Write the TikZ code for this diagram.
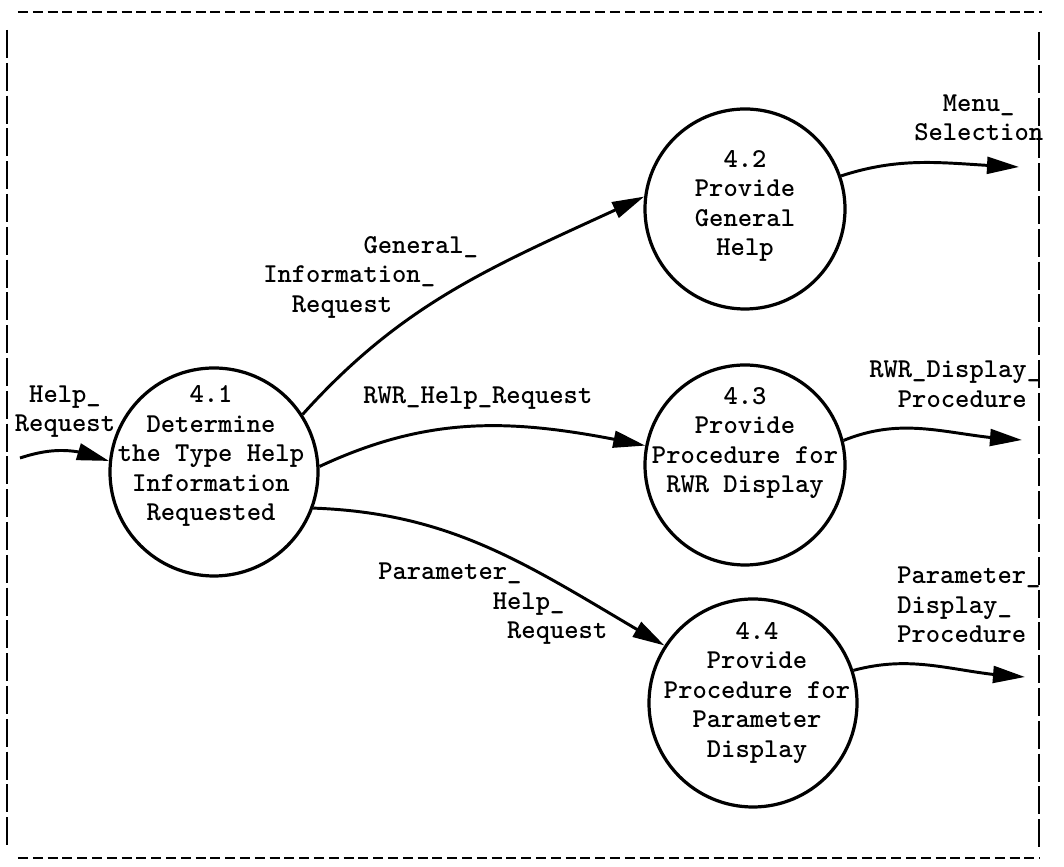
\documentclass[tikz,border=0pt]{standalone}
\usepackage{tikz}
\usetikzlibrary{arrows.meta,bending,shapes,positioning}
\begin{document}
\begin{tikzpicture}[proc/.style={draw,circle,line width=2.3pt,minimum size=5.2cm,inner sep=0pt},
                    txt/.style={font=\ttfamily\bfseries\fontsize{19.4}{21}\selectfont,inner sep=0pt},
                    flow/.style={-{Triangle[length=0.8cm,width=0.42cm]},line width=2.1pt},
                    hdash/.style={line width=1.8pt,dash pattern=on 0.25cm off 0.12cm},
                    vdash/.style={line width=1.8pt,dash pattern=on 0.7cm off 0.12cm}]
                      \useasboundingbox (0,0) rectangle (26.6,21.675);
                      \draw[hdash] (0.45,21.375) -- (26.05,21.375);
                      \draw[hdash] (0.45,0.225) -- (26.0,0.225);
                      \draw[vdash] (0.175,20.925) -- (0.175,0.475);
                      \draw[vdash] (25.975,20.875) -- (25.975,0.475);

                      \node[proc] (p1) at (5.35,9.875) {};
                      \node[proc,minimum size=5.0cm] (p2) at (18.625,16.45) {};
                      \node[proc,minimum size=5.0cm] (p3) at (18.625,10.05) {};
                      \node[proc] (p4) at (18.825,4.1) {};

                      \node[txt,align=center] (t1) at ([xshift=-0.075cm,yshift=0.39cm]p1.center) {4.1\\Determine\\the Type Help\\Information\\Requested};
                      \node[txt,align=center] (t2) at ([yshift=0.075cm]p2.center) {4.2\\Provide\\General\\Help};
                      \node[txt,align=center] (t3) at ([yshift=0.55cm]p3.center) {4.3\\Provide\\Procedure for\\RWR Display};
                      \node[txt,align=center] (t4) at ([xshift=0.1cm,yshift=0.25cm]p4.center) {4.4\\Provide\\Procedure for\\Parameter\\Display};

                      \coordinate (h0) at (0.5,10.225);
                      \coordinate (o2) at (25.475,17.5);
                      \coordinate (o3) at (25.55,10.675);
                      \coordinate (o4) at (25.625,4.75);

                      \draw[flow] (h0) to[bend left=20] (p1.174);
                      \draw[flow] (p1.33) to[out=48,in=205] (p2.173);
                      \draw[flow] (p1.3) to[out=25,in=168] (p3.169);
                      \draw[flow] (p1.-20) to[out=-2,in=150] (p4.147);
                      \draw[flow] (p2.19) to[out=18,in=178] (o2);
                      \draw[flow] (p3.14) to[out=22,in=178] (o3);
                      \draw[flow] (p4.18) to[out=15,in=178] (o4);

                      \node[txt,align=center] (f0) at (1.625,11.39) {Help\_\\Request};
                      \node[txt,align=left,anchor=west] (f1) at (6.575,14.74) {\hphantom{xxxxxxx}General\_\\Information\_\\\hphantom{xx}Request};
                      \node[txt,anchor=west] (f2) at (9.075,11.725) {RWR\_Help\_Request};
                      \node[txt,align=left,anchor=west] (f3) at (9.45,6.575) {Parameter\_\\\hphantom{xxxxxxxx}Help\_\\\hphantom{xxxxxxxxx}Request};
                      \node[txt,align=left,anchor=west] (f4) at (22.85,18.725) {\hphantom{xx}Menu\_\\Selection};
                      \node[txt,align=left,anchor=west] (f5) at (21.725,12.075) {RWR\_Display\_\\\hphantom{xx}Procedure};
                      \node[txt,align=left,anchor=west] (f6) at (22.425,6.55) {Parameter\_\\Display\_\\Procedure};
                    \end{tikzpicture}
\end{document}
